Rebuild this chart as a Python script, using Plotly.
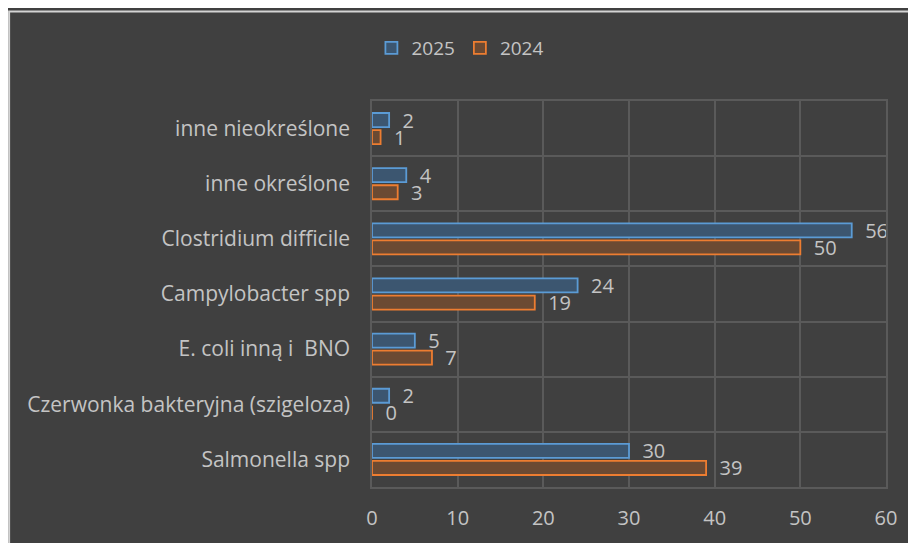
import plotly.graph_objects as go

categories = [
    "inne nieokreślone",
    "inne określone",
    "Clostridium difficile",
    "Campylobacter spp",
    "E. coli inną i  BNO",
    "Czerwonka bakteryjna (szigeloza)",
    "Salmonella spp",
]
values_2025 = [2, 4, 56, 24, 5, 2, 30]
values_2024 = [1, 3, 50, 19, 7, 0, 39]
x_ticks = [0, 10, 20, 30, 40, 50, 60]

bg = "#404040"
grid = "#5a5a5a"
txt = "#c4c4c4"
font = "'Open Sans', Lato, sans-serif"

fig = go.Figure()
fig.add_trace(go.Bar(
    y=categories, x=values_2025, name="2025", orientation="h",
    marker=dict(color="#3c5670", line=dict(color="#5b9bd5", width=1.8)),
    text=values_2025, texttemplate="  %{text}", textposition="outside",
    constraintext="none", textfont=dict(color=txt, size=20), cliponaxis=False,
))
fig.add_trace(go.Bar(
    y=categories, x=values_2024, name="2024", orientation="h",
    marker=dict(color="#6b4a33", line=dict(color="#ed7d31", width=1.8)),
    text=values_2024, texttemplate="  %{text}", textposition="outside",
    constraintext="none", textfont=dict(color=txt, size=20), cliponaxis=False,
))

# thin light frame on the left and top edge of the chart area
fig.add_shape(type="rect", xref="paper", yref="paper",
              x0=-0.706, x1=1.2, y0=-0.3, y1=1.232,
              line=dict(color="#d4d4d4", width=2), layer="below")

fig.update_layout(
    width=908, height=535,
    margin=dict(l=364, r=30, t=93, b=54),
    paper_bgcolor=bg, plot_bgcolor=bg,
    font=dict(family=font, color=txt, size=20),
    barmode="group", bargap=0.38, bargroupgap=0.18,
    showlegend=True,
    legend=dict(orientation="h", x=0.172, xanchor="center", y=1.137, yanchor="middle",
                font=dict(size=19, color=txt), bgcolor="rgba(0,0,0,0)",
                itemwidth=30, tracegroupgap=0),
    xaxis=dict(range=[0, 60], tickvals=x_ticks, showgrid=True, gridcolor=grid, gridwidth=1.5,
               zeroline=False, showline=True, linecolor=grid, linewidth=1.5, mirror=True,
               ticks="outside", ticklen=12, tickcolor="rgba(0,0,0,0)",
               tickfont=dict(size=20, color=txt)),
    yaxis=dict(autorange="reversed", tickson="boundaries", showgrid=True, gridcolor=grid,
               gridwidth=1.5, showline=True, linecolor=grid, linewidth=1.5, mirror=True,
               ticks="", ticklabelstandoff=16,
               tickfont=dict(size=21, color=txt)),
)

fig.write_html(
    "out.html",
    post_script="document.documentElement.style.overflow='hidden';"
                "document.body.style.overflow='hidden';",
)
